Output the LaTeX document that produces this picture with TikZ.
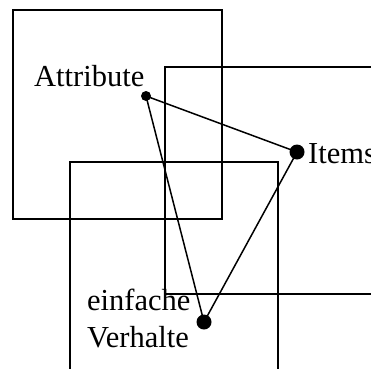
\documentclass[tikz,border=0pt]{standalone}
\usepackage{fontspec}
\setmainfont{Liberation Serif}
\begin{document}
\begin{tikzpicture}[x=1pt,y=-1pt,
  frame/.style={draw=black,line width=1.5pt},
  bigdot/.style={circle,fill=black,inner sep=0pt,minimum size=15pt},
  smalldot/.style={circle,fill=black,inner sep=0pt,minimum size=10pt},
  lbl/.style={anchor=base west,inner sep=0pt,font=\fontsize{30.5}{36}\selectfont},
  link/.style={draw=black,line width=1.5pt}]
\useasboundingbox (0,0) rectangle (371,368);
% boxes
\draw[frame] (13,10) rectangle (222,219);
\draw[frame] (380,67) -- (165,67) -- (165,294) -- (380,294);
\draw[frame] (70,380) -- (70,162) -- (278,162) -- (278,380);
% dots
\node[smalldot] (a) at (146,96) {};
\node[bigdot] (i) at (297,152) {};
\node[bigdot] (v) at (204,322) {};
% connectors
\draw[link] (a.center) -- (i.center);
\draw[link] (a.center) -- (v.center);
\draw[link] (i.center) -- (v.center);
% labels
\node[lbl] (ta) at (34,86) {Attribute};
\node[lbl] (ti) at (308,163) {Items};
\node[lbl] (te) at (87,310) {einfache};
\node[lbl] (tv) at (87,347) {Verhalte};
\end{tikzpicture}
\end{document}
